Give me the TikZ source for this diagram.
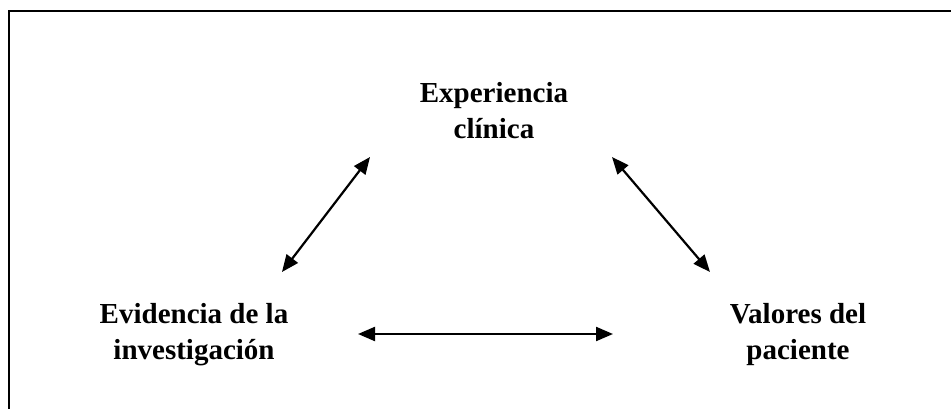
\documentclass[tikz,border=0pt]{standalone}
\usepackage{fontspec}
\setmainfont{Liberation Serif}
\usetikzlibrary{arrows.meta}
\begin{document}
\begin{tikzpicture}[x=1pt,y=-1pt,
  lbl/.style={inner sep=0pt, align=center, font=\fontsize{29}{36}\selectfont\bfseries},
  dbl/.style={line width=2.2pt, {Triangle[length=17pt,width=14pt]}-{Triangle[length=17pt,width=14pt]}}]
\useasboundingbox (0,0) rectangle (951,409);
\draw[line width=2.4pt] (9,409) -- (9,11) -- (951,11);
\node[lbl] (exp) at (494,111) {Experiencia\\clínica};
\node[lbl] (evi) at (194,335) {Evidencia de la\\investigación};
\node[lbl] (val) at (798,335) {Valores del\\paciente};
\coordinate (a1) at (282,272);
\coordinate (a2) at (370,157);
\coordinate (b1) at (612,157);
\coordinate (b2) at (710,272);
\coordinate (c1) at (358,334);
\coordinate (c2) at (613,334);
\draw[dbl] (a1) -- (a2);
\draw[dbl] (b1) -- (b2);
\draw[dbl] (c1) -- (c2);
\end{tikzpicture}
\end{document}
